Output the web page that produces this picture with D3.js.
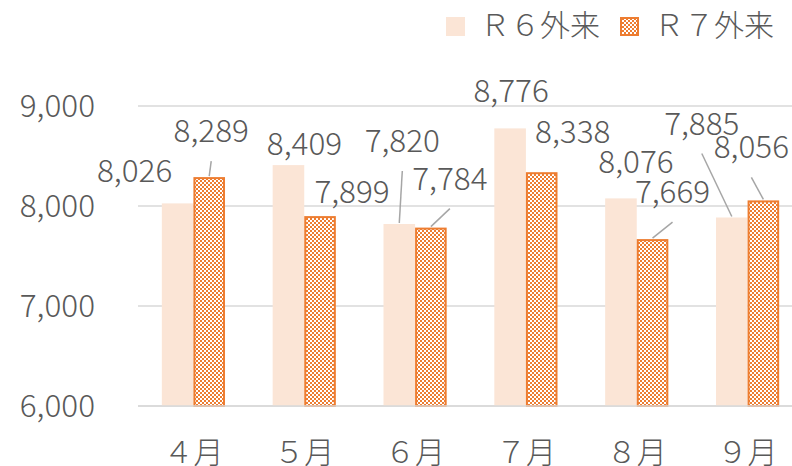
<!DOCTYPE html>
<html>
<head>
<meta charset="utf-8">
<script src="https://cdn.jsdelivr.net/npm/d3@7"></script>
<style>
  body { margin: 0; background: #fff; }
  text { font-family: "Noto Sans CJK JP", "Noto Sans", sans-serif; font-weight: 300; fill: #595959; }
</style>
</head>
<body>
<div id="chart"></div>
<script>
const width = 792;
const height = 466;

// data
const months = ["４月", "５月", "６月", "７月", "８月", "９月"];
const seriesNames = ["Ｒ６外来", "Ｒ７外来"];
const r6 = [8026, 8409, 7820, 8776, 8076, 7885];
const r7 = [8289, 7899, 7784, 8338, 7669, 8056];
const yTicks = [6000, 7000, 8000, 9000];

// label nudges relative to bar top centre [dx, dy, leader?]
const r6Nudge = [[-43, -21, 0], [16, -10, 0], [3, -72, 1], [1, -26, 0], [15, -25, 0], [-30, -83, 1]];
const r7Nudge = [[2, -35, 1], [32, -13, 0], [19, -38, 1], [31, -29, 0], [20, -36, 1], [-12, -42, 1]];

const plot = {left: 138, right: 803, top: 106, bottom: 406};
const orange = "#ED7D31";
const peach = "#FBE5D6";
const numSize = 31.5;

const svg = d3.select("#chart")
    .append("svg")
    .attr("width", width)
    .attr("height", height);

// checker pattern for R7
const defs = svg.append("defs");
const pat = defs.append("pattern")
    .attr("id", "checker")
    .attr("patternUnits", "userSpaceOnUse")
    .attr("width", 4)
    .attr("height", 4);
pat.append("rect").attr("width", 4).attr("height", 4).attr("fill", "#fff");
pat.append("rect").attr("width", 2).attr("height", 2).attr("fill", orange);
pat.append("rect").attr("x", 2).attr("y", 2).attr("width", 2).attr("height", 2).attr("fill", orange);

const x = d3.scaleBand()
    .domain(months)
    .range([plot.left, plot.right])
    .paddingInner(0.43)
    .paddingOuter(0.215);

const xs = d3.scaleBand()
    .domain([0, 1])
    .range([0, x.bandwidth()]);

const y = d3.scaleLinear()
    .domain([6000, 9000])
    .range([plot.bottom, plot.top]);

// gridlines
svg.append("g")
    .selectAll("line")
    .data(yTicks)
    .join("line")
    .attr("x1", plot.left)
    .attr("x2", width)
    .attr("y1", d => y(d))
    .attr("y2", d => y(d))
    .attr("stroke", "#D9D9D9")
    .attr("stroke-width", 1.5);

// y axis labels
svg.append("g")
    .selectAll("text")
    .data(yTicks)
    .join("text")
    .attr("x", 95)
    .attr("y", d => y(d) + 11)
    .attr("text-anchor", "end")
    .attr("font-size", numSize)
    .text(d => d3.format(",")(d));

const fmt = d3.format(",");

const series = [
    {values: r6, nudge: r6Nudge, fill: peach, stroke: "none"},
    {values: r7, nudge: r7Nudge, fill: "url(#checker)", stroke: orange}
];

series.forEach((s, si) => {
    const rows = months.map((m, i) => ({m, v: s.values[i], n: s.nudge[i]}));
    const g = svg.append("g");
    const sw = s.stroke === "none" ? 0 : 2;

    g.selectAll("rect")
        .data(rows)
        .join("rect")
        .attr("x", d => x(d.m) + xs(si) + sw / 2)
        .attr("y", d => y(d.v) + sw / 2)
        .attr("width", xs.bandwidth() - sw)
        .attr("height", d => y(6000) - y(d.v) - sw / 2)
        .attr("fill", s.fill)
        .attr("stroke", s.stroke)
        .attr("stroke-width", sw);

    const cx = d => x(d.m) + xs(si) + xs.bandwidth() / 2;

    // leader lines
    g.selectAll("line")
        .data(rows.filter(d => d.n[2]))
        .join("line")
        .attr("x1", d => cx(d) + d.n[0])
        .attr("y1", d => y(d.v) + d.n[1] + 19)
        .attr("x2", d => cx(d))
        .attr("y2", d => y(d.v) - 1)
        .attr("stroke", "#A6A6A6")
        .attr("stroke-width", 1.5);

    g.selectAll("text")
        .data(rows)
        .join("text")
        .attr("x", d => cx(d) + d.n[0])
        .attr("y", d => y(d.v) + d.n[1])
        .attr("text-anchor", "middle")
        .attr("font-size", numSize)
        .text(d => fmt(d.v));
});

// baseline
svg.append("line")
    .attr("x1", plot.left)
    .attr("x2", width)
    .attr("y1", y(6000))
    .attr("y2", y(6000))
    .attr("stroke", "#D9D9D9")
    .attr("stroke-width", 1.5);

// month labels
svg.append("g")
    .selectAll("text")
    .data(months)
    .join("text")
    .attr("x", d => x(d) + x.bandwidth() / 2)
    .attr("y", 463)
    .attr("text-anchor", "middle")
    .attr("font-size", 30)
    .text(d => d);

// legend
const legend = svg.append("g");
const legendX = [446, 620];
seriesNames.forEach((name, i) => {
    legend.append("rect")
        .attr("x", legendX[i] + (i ? 1 : 0))
        .attr("y", 17 + (i ? 1 : 0))
        .attr("width", i ? 17 : 19)
        .attr("height", i ? 17 : 19)
        .attr("fill", series[i].fill)
        .attr("stroke", series[i].stroke)
        .attr("stroke-width", i ? 2 : 0);
    legend.append("text")
        .attr("x", legendX[i] + 34)
        .attr("y", 36)
        .attr("font-size", 30)
        .text(name);
});
</script>
</body>
</html>
